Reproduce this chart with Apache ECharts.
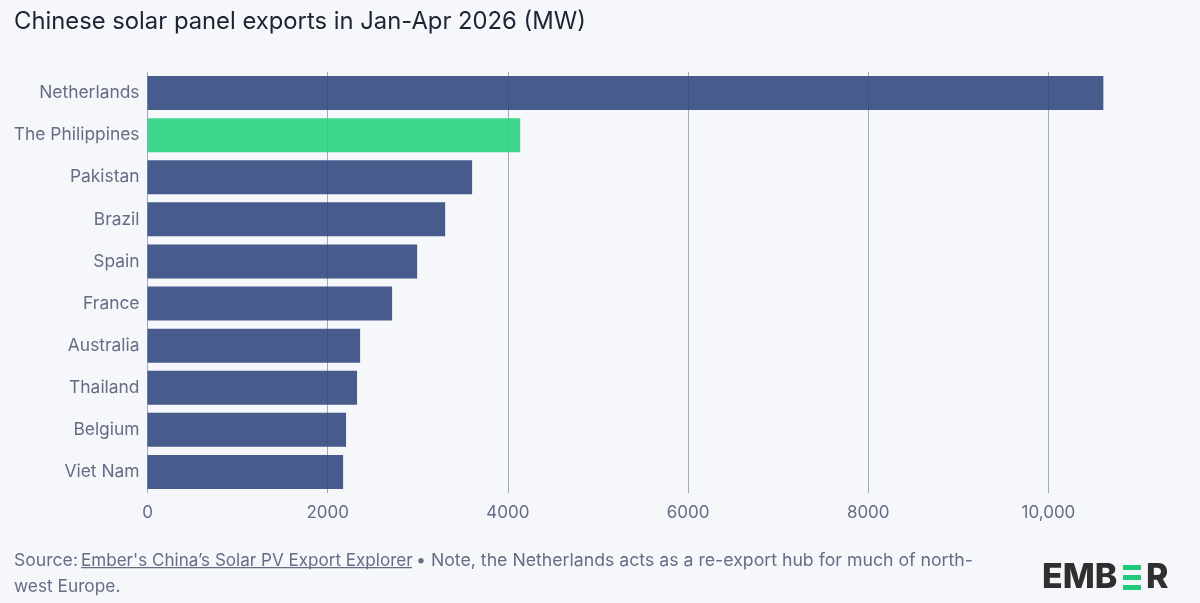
<!DOCTYPE html>
<html><head><meta charset="utf-8">
<style>html,body{margin:0;padding:0;background:#f5f7fb}#c{width:1200px;height:603px}</style>
<script src="https://cdn.jsdelivr.net/npm/echarts@6/dist/echarts.min.js"></script></head>
<body><div id="c"></div>
<script>
const categories = ['Netherlands','The Philippines','Pakistan','Brazil','Spain','France','Australia','Thailand','Belgium','Viet Nam'];
const values = [10610,4137,3603,3304,2993,2715,2360,2326,2204,2171];
const highlight = 'The Philippines';
const titleText = 'Chinese solar panel exports in Jan-Apr 2026 (MW)';
const FONT = 'Inter';
const chart = echarts.init(document.getElementById('c'), null, {renderer:'canvas'});
const foot = {fontFamily:FONT,fill:'#656d85'};
const ink = '#2f2f2f', green = '#1fcb7a';
chart.setOption({
  animation:false,
  backgroundColor:'#f5f7fb',
  title:{text:titleText,left:9,top:5,textStyle:{fontFamily:FONT,fontSize:23.8,fontWeight:400,color:'#1f2233'}},
  grid:{left:147.5,right:61.5,top:72,bottom:110},
  xAxis:{type:'value',min:0,max:11000,interval:2000,
    axisLine:{show:false},axisTick:{show:false},
    axisLabel:{margin:11,fontFamily:FONT,fontSize:17,color:'#656d85',
      showMaxLabel:false,formatter:v=>v>=10000?v.toLocaleString('en-US'):String(v)},
    splitLine:{show:true,showMaxLine:false,lineStyle:{color:'#a0a8bb',width:1}}},
  yAxis:{type:'category',inverse:true,data:categories,
    axisLine:{show:false},axisTick:{show:false},
    axisLabel:{margin:8,padding:[2,0,0,0],fontFamily:FONT,fontSize:17.4,color:'#656d85'}},
  series:[{type:'bar',barWidth:34,
    data:categories.map((c,i)=>({value:values[i],itemStyle:{opacity:0.88,color:c===highlight?'#24d27d':'#2f467c'}}))}],
  graphic:[
    {type:'text',left:14,top:552,style:{...foot,fontSize:17.6,text:'Source: '}},
    {type:'text',left:81,top:552,style:{...foot,fontSize:17.07,text:"Ember's China’s Solar PV Export Explorer"}},
    {type:'rect',shape:{x:81,y:567,width:331,height:1.2},style:{fill:'#656d85'}},
    {type:'text',left:416,top:552,style:{...foot,fontSize:17.7,text:'• Note, the Netherlands acts as a re-export hub for much of north-'}},
    {type:'text',left:14,top:578,style:{...foot,fontSize:17.3,text:'west Europe.'}},
    {type:'text',left:1042,top:561,style:{fontFamily:'Inter',fontSize:34,fontWeight:800,fill:ink,text:'EMB'}},
    {type:'rect',shape:{x:1123,y:565,width:18,height:5},style:{fill:green}},
    {type:'rect',shape:{x:1123,y:575,width:18,height:5},style:{fill:green}},
    {type:'rect',shape:{x:1123,y:585,width:18,height:5},style:{fill:green}},
    {type:'text',left:1146,top:561,style:{fontFamily:'Inter',fontSize:34,fontWeight:800,fill:ink,text:'R'}}
  ]
});
</script></body></html>
